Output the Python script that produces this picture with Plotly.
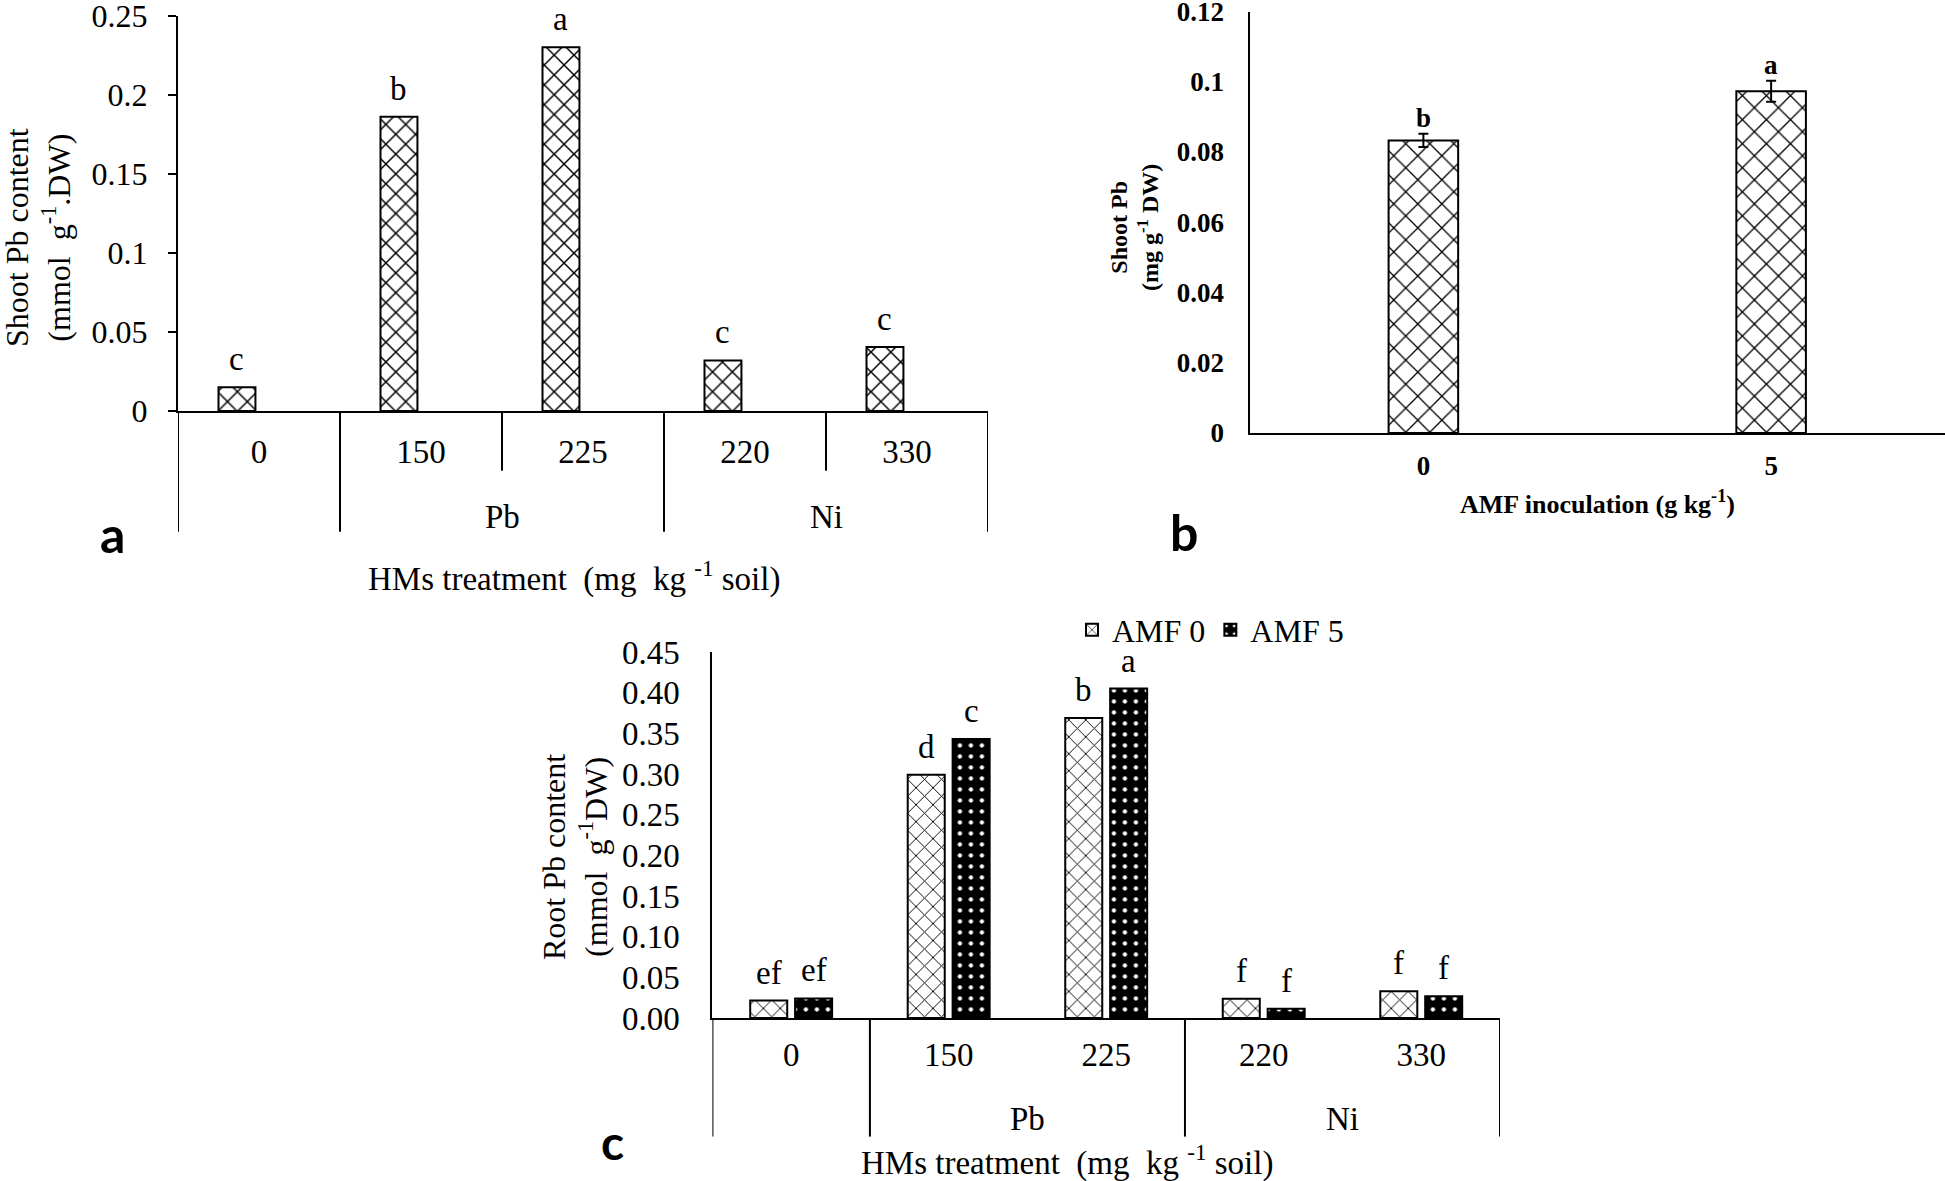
import plotly.graph_objects as go

# ---------------- data ----------------
# Panel a: shoot Pb content
a_doses = ["0", "150", "225", "220", "330"]
a_groups = ["", "Pb", "Pb", "Ni", "Ni"]
a_values = [0.015, 0.186, 0.230, 0.032, 0.0405]
a_letters = ["c", "b", "a", "c", "c"]

# Panel b: shoot Pb vs AMF inoculation
b_levels = ["0", "5"]
b_values = [0.0833, 0.0973]
b_errors = [0.0019, 0.003]
b_letters = ["b", "a"]

# Panel c: root Pb content
c_doses = ["0", "150", "225", "220", "330"]
c_groups = ["", "Pb", "Pb", "Ni", "Ni"]
c_amf0 = [0.0215, 0.299, 0.369, 0.0237, 0.0328]
c_amf5 = [0.024, 0.343, 0.405, 0.0114, 0.0266]
c_letters0 = ["ef", "d", "b", "f", "f"]
c_letters5 = ["ef", "c", "a", "f", "f"]
series_names = ["AMF 0", "AMF 5"]

# ---------------- layout helpers ----------------
W, H = 1945, 1181
SERIF = "Liberation Serif, Times New Roman, serif"
SANS = "Lato, Open Sans, sans-serif"


def fx(p):
    return p / W


def fy(p):
    return 1 - p / H


fig = go.Figure()
annotations = []
shapes = []

# ---------------- panel a ----------------
wa, oa = 0.228, -0.25
fig.add_trace(go.Bar(
    x=list(range(len(a_doses))), y=a_values, width=wa, offset=oa,
    xaxis="x", yaxis="y", showlegend=False,
    marker=dict(color="white", line=dict(color="black", width=2),
                pattern=dict(shape="x", fgcolor="black", bgcolor="white", size=14, solidity=0.2)),
))
for i, (v, t) in enumerate(zip(a_values, a_letters)):
    annotations.append(dict(x=i + oa + wa / 2, y=v, xref="x", yref="y", text=t, showarrow=False,
                            yshift=28, yanchor="middle", font=dict(family=SERIF, size=33, color="black")))

# ---------------- panel b ----------------
wb = 0.2
fig.add_trace(go.Bar(
    x=list(range(len(b_levels))), y=b_values, width=wb,
    xaxis="x2", yaxis="y2", showlegend=False,
    error_y=dict(type="data", array=b_errors, visible=True, color="black", thickness=2, width=5),
    marker=dict(color="white", line=dict(color="black", width=2),
                pattern=dict(shape="x", fgcolor="black", bgcolor="white", size=17, solidity=0.15)),
))
for i, (v, e, t) in enumerate(zip(b_values, b_errors, b_letters)):
    annotations.append(dict(x=i, y=v + e, xref="x2", yref="y2", text="<b>%s</b>" % t, showarrow=False,
                            yshift=16, yanchor="middle", font=dict(family=SERIF, size=27, color="black")))

# ---------------- panel c ----------------
wc, o0, o5 = 0.235, -0.26, 0.025
fig.add_trace(go.Bar(
    x=list(range(len(c_doses))), y=c_amf0, width=wc, offset=o0, name=series_names[0],
    xaxis="x3", yaxis="y3", showlegend=True,
    marker=dict(color="white", line=dict(color="black", width=2),
                pattern=dict(shape="x", fgcolor="black", bgcolor="white", size=12, solidity=0.15)),
))
fig.add_trace(go.Bar(
    x=list(range(len(c_doses))), y=c_amf5, width=wc, offset=o5, name=series_names[1],
    xaxis="x3", yaxis="y3", showlegend=True,
    marker=dict(color="black", line=dict(color="black", width=2),
                pattern=dict(shape=".", fgcolor="white", bgcolor="black", size=11, solidity=0.12)),
))
for i, (v, t) in enumerate(zip(c_amf0, c_letters0)):
    annotations.append(dict(x=i + o0 + wc / 2, y=v, xref="x3", yref="y3", text=t, showarrow=False,
                            yshift=28, yanchor="middle", font=dict(family=SERIF, size=33, color="black")))
for i, (v, t) in enumerate(zip(c_amf5, c_letters5)):
    annotations.append(dict(x=i + o5 + wc / 2, y=v, xref="x3", yref="y3", text=t, showarrow=False,
                            yshift=28, yanchor="middle", font=dict(family=SERIF, size=33, color="black")))


# ---------------- category bracket lines & group labels ----------------
def brackets(groups, xref, yref, long_y, short_y, label_y, inner):
    n = len(groups)
    bounds = [(-0.5, True)]
    for i in range(n - 1):
        bounds.append((i + 0.5, groups[i] != groups[i + 1]))
    bounds.append((n - 0.5, True))
    for xb, is_long in bounds:
        if not is_long and not inner:
            continue
        shapes.append(dict(type="line", xref=xref, yref=yref, x0=xb, x1=xb, y0=0,
                           y1=long_y if is_long else short_y,
                           line=dict(color="black", width=2)))
    seen = []
    for g in groups:
        if g and g not in seen:
            seen.append(g)
    for g in seen:
        idx = [i for i, gg in enumerate(groups) if gg == g]
        annotations.append(dict(x=sum(idx) / len(idx), y=label_y, xref=xref, yref=yref, text=g,
                                showarrow=False, yanchor="middle",
                                font=dict(family=SERIF, size=33, color="black")))


brackets(a_groups, "x", "y domain", -0.305, -0.151, -0.267, True)
brackets(c_groups, "x3", "y3 domain", -0.324, -0.16, -0.275, False)

# ---------------- titles & panel letters ----------------
serif33 = dict(family=SERIF, size=33, color="black")
annotations += [
    dict(x=fx(38), y=fy(238), xref="paper", yref="paper", textangle=-90, showarrow=False,
         text="Shoot Pb content<br>(mmol\u00a0 g<sup>-1</sup>.DW)", font=dict(family=SERIF, size=32, color="black"),
         xanchor="center", yanchor="middle"),
    dict(x=fx(574), y=fy(576), xref="paper", yref="paper", showarrow=False,
         text="HMs treatment\u00a0 (mg\u00a0 kg <sup>-1</sup> soil)", font=serif33, xanchor="center", yanchor="middle"),
    dict(x=fx(112), y=fy(534), xref="paper", yref="paper", showarrow=False, text="<b>a</b>",
         font=dict(family=SANS, size=50, color="black"), xanchor="center", yanchor="middle"),
    dict(x=fx(1135), y=fy(228), xref="paper", yref="paper", textangle=-90, showarrow=False,
         text="<b>Shoot Pb<br>(mg g<sup>-1</sup> DW)</b>", font=dict(family=SERIF, size=24, color="black"),
         xanchor="center", yanchor="middle"),
    dict(x=fx(1597), y=fy(502), xref="paper", yref="paper", showarrow=False,
         text="<b>AMF inoculation (g kg<sup>-1</sup>)</b>", font=dict(family=SERIF, size=26, color="black"),
         xanchor="center", yanchor="middle"),
    dict(x=fx(1184), y=fy(532), xref="paper", yref="paper", showarrow=False, text="<b>b</b>",
         font=dict(family=SANS, size=50, color="black"), xanchor="center", yanchor="middle"),
    dict(x=fx(575), y=fy(857), xref="paper", yref="paper", textangle=-90, showarrow=False,
         text="Root Pb content<br>(mmol\u00a0 g<sup>-1</sup>DW)", font=dict(family=SERIF, size=32, color="black"),
         xanchor="center", yanchor="middle"),
    dict(x=fx(1067), y=fy(1160), xref="paper", yref="paper", showarrow=False,
         text="HMs treatment\u00a0 (mg\u00a0 kg <sup>-1</sup> soil)", font=serif33, xanchor="center", yanchor="middle"),
    dict(x=fx(612), y=fy(1141), xref="paper", yref="paper", showarrow=False, text="<b>c</b>",
         font=dict(family=SANS, size=48, color="black"), xanchor="center", yanchor="middle"),
]

axis_common = dict(showgrid=False, zeroline=False, showline=True, linecolor="black", linewidth=2,
                   automargin=False, ticklabeloverflow="allow")

fig.update_layout(
    template="none",
    width=W, height=H, autosize=False,
    margin=dict(l=0, r=0, t=0, b=0, pad=0),
    paper_bgcolor="white", plot_bgcolor="rgba(0,0,0,0)",
    barmode="overlay",
    font=dict(family=SERIF, color="black"),
    xaxis=dict(domain=[fx(178), fx(988)], range=[-0.5, len(a_doses) - 0.5], anchor="y",
               tickvals=list(range(len(a_doses))), ticktext=a_doses, ticks="",
               tickfont=dict(family=SERIF, size=33, color="black"), ticklabelstandoff=10,
               **axis_common),
    yaxis=dict(domain=[fy(411), fy(15.5)], range=[0, 0.25], dtick=0.05, anchor="x",
               ticks="outside", ticklen=8, tickwidth=2, tickcolor="black",
               tickfont=dict(family=SERIF, size=32, color="black"), ticklabelstandoff=14,
               **axis_common),
    xaxis2=dict(domain=[fx(1249.5), 1.0], range=[-0.5, len(b_levels) - 0.5], anchor="y2",
                tickvals=list(range(len(b_levels))), ticktext=b_levels, ticks="",
                tickfont=dict(family=SERIF, size=27, color="black", weight="bold"), ticklabelstandoff=8,
                **axis_common),
    yaxis2=dict(domain=[fy(433), fy(11.5)], range=[0, 0.12], dtick=0.02, anchor="x2", ticks="",
                tickfont=dict(family=SERIF, size=27, color="black", weight="bold"), ticklabelstandoff=18,
                **axis_common),
    xaxis3=dict(domain=[fx(712.4), fx(1500)], range=[-0.5, len(c_doses) - 0.5], anchor="y3",
                tickvals=list(range(len(c_doses))), ticktext=c_doses, ticks="",
                tickfont=dict(family=SERIF, size=33, color="black"), ticklabelstandoff=6,
                **axis_common),
    yaxis3=dict(domain=[fy(1018), fy(652)], range=[0, 0.45], dtick=0.05, tickformat=".2f", anchor="x3",
                ticks="", tickfont=dict(family=SERIF, size=33, color="black"), ticklabelstandoff=24,
                **axis_common),
    legend=dict(x=fx(1072), y=fy(630), xanchor="left", yanchor="middle", orientation="h",
                font=dict(family=SERIF, size=32, color="black"), bgcolor="rgba(0,0,0,0)",
                itemwidth=30, traceorder="normal"),
    annotations=annotations,
    shapes=shapes,
)

fig.write_html("out.html", config={"displayModeBar": False},
               post_script="document.body.style.margin='0px';")
